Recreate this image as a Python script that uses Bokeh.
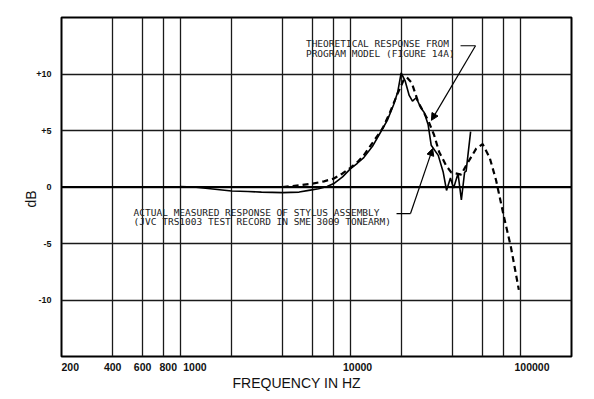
from bokeh.plotting import figure
from bokeh.models import FixedTicker, Label, Arrow, NormalHead, Span, Title
from bokeh.embed import file_html
from bokeh.resources import INLINE

# ---- data ----
measured_freq = [1000, 1200, 1500, 2000, 2500, 3000, 4000, 5000, 5700, 6500, 7300, 8000,
                 9000, 10000, 11000, 12000, 13500, 15000, 16500, 18000, 19000, 19900,
                 21000, 22200, 23200, 24400, 26000, 27200, 28700, 29900, 32900, 35200,
                 36800, 38800, 40500, 43000, 45000, 47000, 48000, 51000]
measured_db = [0.05, 0.0, -0.15, -0.35, -0.4, -0.45, -0.5, -0.45, -0.3, -0.15, 0.05, 0.3,
               0.9, 1.6, 2.1, 2.6, 3.6, 4.8, 5.9, 7.3, 8.4, 10.1,
               9.4, 8.1, 7.6, 7.9, 7.0, 6.6, 5.5, 3.7, 2.8, 1.3,
               -0.3, 0.8, -0.1, 1.2, -1.15, 1.3, 1.4, 4.9]

theory_freq = [4000, 5000, 6000, 7000, 8000, 9000, 10000, 11000, 12000, 13500, 15500, 17000,
               19000, 20500, 21500, 23000, 25100, 28700, 31100, 33300, 36600, 39200, 44900,
               48000, 55000, 60000, 66000, 72000, 80000, 88000, 98000]
theory_db = [0.0, 0.15, 0.3, 0.5, 0.75, 1.2, 1.7, 2.2, 2.8, 3.9, 5.2, 6.5,
             8.3, 9.4, 9.7, 9.2, 7.5, 5.9, 4.6, 3.1, 1.9, 1.3, 1.1,
             1.9, 3.4, 3.8, 2.6, 0.6, -2.6, -5.3, -9.1]

x_label_ticks = [200, 400, 600, 800, 1000, 10000, 100000]
x_label_texts = ["200", "400", "600", "800", "1000", "10000", "100000"]
x_grid_ticks = [400, 600, 800, 1000, 2000, 4000, 6000, 8000, 10000, 20000, 40000,
                60000, 80000, 100000]
y_ticks = [-10, -5, 0, 5, 10]
y_texts = ["-10", "-5", "0", "+5", "+10"]

theory_note = ["THEORETICAL RESPONSE FROM", "PROGRAM MODEL (FIGURE 14A)"]
measured_note = ["ACTUAL MEASURED RESPONSE OF STYLUS ASSEMBLY",
                 "(JVC TRS1003 TEST RECORD IN SME 3009 TONEARM)"]

# hand-lettered tick labels sit a little right of their lines (leading no-break spaces)
x_label_pad = {200: 6, 800: 3, 1000: 10, 10000: 5, 100000: 8}

# ---- figure ----
p = figure(width=588, height=396, x_axis_type="log", x_range=(200, 200000),
           y_range=(-15, 15), output_backend="svg", toolbar_location=None,
           min_border_left=61, min_border_right=17, min_border_top=17,
           min_border_bottom=40, background_fill_color="white",
           border_fill_color="white")

p.outline_line_color = "black"
p.outline_line_width = 2

p.xaxis.ticker = FixedTicker(ticks=x_label_ticks)
p.xaxis.major_label_overrides = {
    t: "\u00a0" * x_label_pad.get(t, 0) + s for t, s in zip(x_label_ticks, x_label_texts)}
p.yaxis.ticker = FixedTicker(ticks=y_ticks)
p.yaxis.major_label_overrides = {t: s for t, s in zip(y_ticks, y_texts)}
for ax in p.axis:
    ax.axis_line_color = None
    ax.major_tick_line_color = None
    ax.minor_tick_line_color = None
    ax.major_tick_out = 0
    ax.major_tick_in = 0
    ax.minor_tick_out = 0
    ax.minor_tick_in = 0
    ax.major_label_text_font = "Liberation Sans"
    ax.major_label_text_font_style = "bold"
    ax.major_label_text_color = "#111111"
p.xaxis.major_label_text_font_size = "10.5px"
p.xaxis.major_label_standoff = 4
p.yaxis.major_label_text_font_size = "9px"
p.yaxis.major_label_standoff = 10

p.xgrid.ticker = FixedTicker(ticks=x_grid_ticks)
p.ygrid.ticker = FixedTicker(ticks=y_ticks)
p.grid.grid_line_color = "#1a1a1a"
p.grid.grid_line_width = 1.3
p.grid.grid_line_alpha = 1.0

p.add_layout(Span(location=0, dimension="width", line_color="black", line_width=2))

# curves
p.line(measured_freq, measured_db, line_color="black", line_width=1.6)
p.line(theory_freq, theory_db, line_color="black", line_width=2.2, line_dash="6 4")

# notes
note_font = "DejaVu Sans Mono"
for i, t in enumerate(theory_note):
    p.add_layout(Label(x=5480, y=12.7 - 0.85 * i, text=t, text_font=note_font,
                       text_font_size="9.5px", text_color="#222222",
                       text_baseline="middle", text_align="left"))
for i, t in enumerate(measured_note):
    p.add_layout(Label(x=531, y=-2.25 - 0.8 * i, text=t, text_font=note_font,
                       text_font_size="9.5px", text_color="#222222",
                       text_baseline="middle", text_align="left"))

# leader lines
p.add_layout(Arrow(end=None, x_start=44500, y_start=12.5, x_end=54500, y_end=12.5,
                   line_width=1.2, line_color="black"))
p.add_layout(Arrow(end=NormalHead(size=7, fill_color="black", line_color="black"),
                   x_start=54500, y_start=12.5, x_end=30000, y_end=5.9,
                   line_width=1.2, line_color="black"))
p.add_layout(Arrow(end=None, x_start=18700, y_start=-2.35, x_end=22600, y_end=-2.35,
                   line_width=1.2, line_color="black"))
p.add_layout(Arrow(end=NormalHead(size=7, fill_color="black", line_color="black"),
                   x_start=22600, y_start=-2.35, x_end=30500, y_end=3.4,
                   line_width=1.2, line_color="black"))

# axis titles
p.add_layout(Title(text="FREQUENCY IN HZ", align="left", offset=171, standoff=-6,
                   text_font="Liberation Sans", text_font_size="14px",
                   text_font_style="normal", text_color="#111111"), "below")
p.add_layout(Title(text="dB", align="left", offset=149, standoff=-11,
                   text_font="Liberation Sans", text_font_size="14px",
                   text_font_style="normal", text_color="#111111"), "left")

open("out.html", "w").write(file_html(p, INLINE))
